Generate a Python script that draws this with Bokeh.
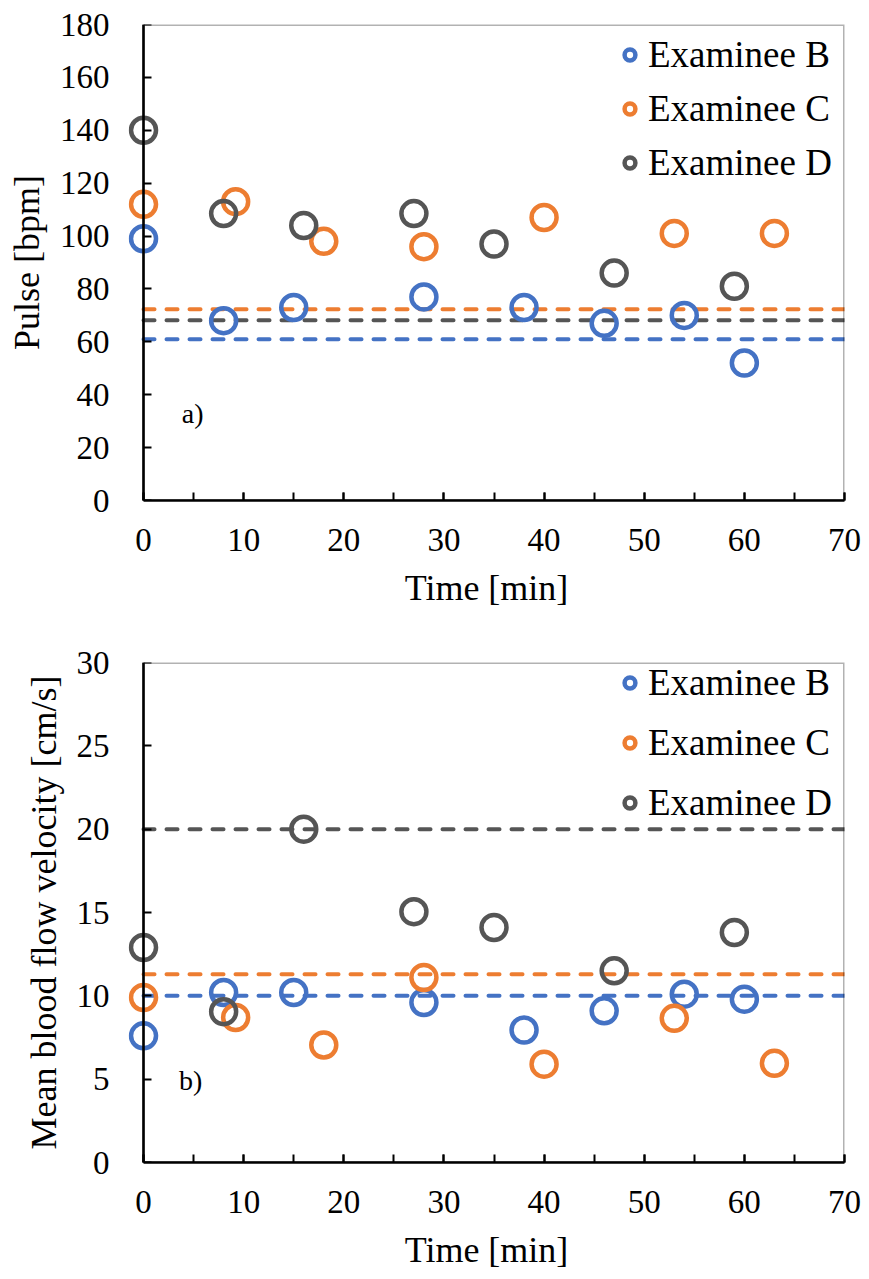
from bokeh.plotting import figure
from bokeh.models import (Range1d, SingleIntervalTicker, Legend, LegendItem, Label,
                          BoxAnnotation, LinearAxis)
from bokeh.layouts import column
from bokeh.embed import file_html
from bokeh.resources import INLINE

examinees = ["Examinee B", "Examinee C", "Examinee D"]
colors = ["#4472C4", "#ED7D31", "#555555"]

# Panel a) Pulse [bpm]
time_b_a = [0, 8, 15, 28, 38, 46, 54, 60]
pulse_b = [99, 68, 73, 77, 73, 67, 70, 52]
time_c_a = [0, 9.2, 18, 28, 40, 53, 63]
pulse_c = [112, 113, 98, 96, 107, 101, 101]
time_d_a = [0, 8, 16, 27, 35, 47, 59]
pulse_d = [140, 108.5, 104, 108.5, 97, 86, 81]
pulse_baseline = [61, 72.3, 68.2]

# Panel b) Mean blood flow velocity [cm/s]
time_b_b = [0, 8, 15, 28, 38, 46, 54, 60]
vel_b = [7.6, 10.2, 10.2, 9.6, 7.95, 9.1, 10.1, 9.8]
time_c_b = [0, 9.2, 18, 28, 40, 53, 63]
vel_c = [9.9, 8.7, 7.05, 11.1, 5.9, 8.65, 5.95]
time_d_b = [0, 8, 16, 27, 35, 47, 59]
vel_d = [12.9, 9.05, 20, 15.05, 14.1, 11.5, 13.8]
vel_baseline = [10, 11.3, 20]

X_MIN, X_MAX = 0, 70
FONT = "Liberation Serif"


def style_text(ax):
    ax.major_label_text_font = FONT
    ax.major_label_text_font_size = "33px"
    ax.major_label_text_color = "black"
    ax.axis_label_text_font = FONT
    ax.axis_label_text_font_size = "36px"
    ax.axis_label_text_font_style = "normal"
    ax.axis_label_text_color = "black"


def make_panel(series, baselines, ymax, yint, ylabel, tag, tag_xy, height,
               bl, br, bt, bb, leg_kw):
    p = figure(width=869, height=height, output_backend="svg", toolbar_location=None,
               x_range=Range1d(X_MIN - 1.5, X_MAX), y_range=Range1d(0, ymax),
               min_border_left=bl, min_border_right=br, min_border_top=bt, min_border_bottom=bb)
    p.xgrid.visible = False
    p.ygrid.visible = False
    p.outline_line_color = None
    p.background_fill_color = "white"

    p.add_layout(BoxAnnotation(left=X_MIN, right=X_MAX, bottom=0, top=ymax,
                               fill_alpha=0, fill_color=None,
                               line_color="black", line_width=3))

    for loc, col in zip(baselines, colors):
        p.segment(x0=X_MIN, y0=loc, x1=X_MAX, y1=loc, line_color=col,
                  line_width=4, line_dash="11 12", line_cap="round")

    items = []
    for (xs, ys), col, name in zip(series, colors, examinees):
        r = p.scatter(xs, ys, marker="circle", size=25, fill_color=None,
                      line_color=col, line_width=4.5)
        items.append(LegendItem(label=name, renderers=[r]))

    leg = Legend(items=items, border_line_color=None,
                 background_fill_alpha=0, label_text_font=FONT,
                 label_text_font_size="37px", label_text_color="black",
                 glyph_width=27, glyph_height=27, label_standoff=5, **leg_kw)
    p.add_layout(leg)

    # x axis
    xa = p.xaxis[0]
    xa.ticker = SingleIntervalTicker(interval=10, num_minor_ticks=2)
    xa.bounds = (X_MIN, X_MAX)
    # y axis line + ticks fixed at x = 0
    ya = p.yaxis[0]
    ya.ticker = SingleIntervalTicker(interval=yint, num_minor_ticks=0)
    ya.fixed_location = X_MIN
    for ax in (xa, ya):
        ax.axis_line_width = 2.5
        ax.axis_line_color = "black"
        ax.major_tick_in = 8
        ax.major_tick_out = 0
        ax.minor_tick_in = 8
        ax.minor_tick_out = 0
        ax.major_tick_line_width = 2
        ax.minor_tick_line_width = 2
        style_text(ax)
    ya.minor_tick_in = 0
    ya.major_label_text_alpha = 0
    xa.axis_label = "Time [min]"
    xa.major_label_standoff = 28
    xa.axis_label_standoff = 14

    # y tick labels and title
    ylab = LinearAxis(ticker=SingleIntervalTicker(interval=yint, num_minor_ticks=0),
                      axis_line_color=None, major_tick_line_color=None,
                      minor_tick_line_color=None, major_tick_out=0, major_tick_in=0,
                      minor_tick_out=0, minor_tick_in=0,
                      major_label_standoff=19, axis_label=ylabel, axis_label_standoff=10)
    style_text(ylab)
    p.add_layout(ylab, "left")

    p.add_layout(Label(x=tag_xy[0], y=tag_xy[1], text=tag, text_font=FONT,
                       text_font_size="28px", text_align="center",
                       text_baseline="middle", text_color="black"))
    return p


p1 = make_panel([(time_b_a, pulse_b), (time_c_a, pulse_c), (time_d_a, pulse_d)],
                pulse_baseline, 180, 20, "Pulse [bpm]", "a)", (4.9, 33), 622,
                128, 23, 24, 122,
                dict(location="top_right", spacing=11, margin=9, padding=4, label_width=187))
p2 = make_panel([(time_b_b, vel_b), (time_c_b, vel_c), (time_d_b, vel_d)],
                vel_baseline, 30, 5, "Mean blood flow velocity [cm/s]", "b)", (4.7, 4.9), 657,
                122, 25, 40, 117,
                dict(location=(488, 338), spacing=17, margin=0, padding=0, label_width=196))

layout = column(p1, p2, spacing=0)
open("out.html", "w").write(file_html(layout, INLINE))
